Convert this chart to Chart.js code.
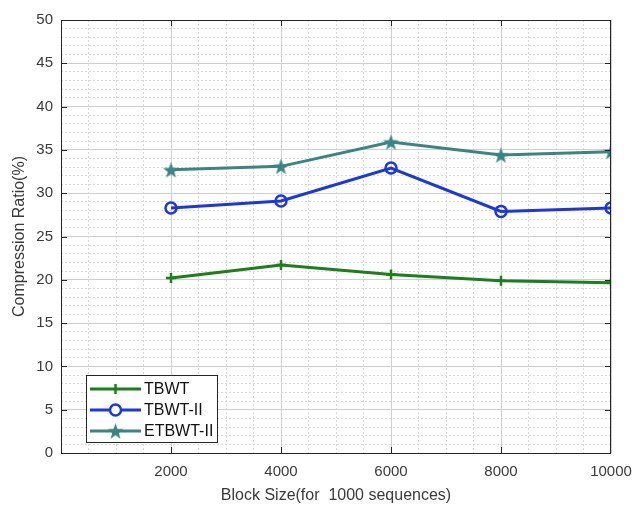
<!DOCTYPE html>
<html>
<head>
<meta charset="utf-8">
<script src="https://cdn.jsdelivr.net/npm/chart.js@4.4.0/dist/chart.umd.min.js"></script>
<style>
    html, body { margin: 0; padding: 0; background: #fff; }
    #wrap { width: 635px; height: 505px; position: relative; }
</style>
</head>
<body>
<div id="wrap"><canvas id="chart"></canvas></div>
<script>
// Chart data
const blockSizes = [2000, 4000, 6000, 8000, 10000];
const tbwt = [20.2, 21.7, 20.6, 19.9, 19.65];
const tbwt2 = [28.3, 29.1, 32.9, 27.9, 28.3];
const etbwt2 = [32.7, 33.1, 35.9, 34.4, 34.8];
const seriesLabels = ['TBWT', 'TBWT-II', 'ETBWT-II'];
const xTitle = 'Block Size(for  1000 sequences)';
const yTitle = 'Compression Ratio(%)';

const GREEN = '#1b7f1b';
const BLUE = '#1a36e6';
const TEAL = '#3a8582';
const TEXT = '#3a3a3a';
const FONT = '"Liberation Sans", Arial, sans-serif';

// Filled pentagram marker, drawn once onto a small canvas
function makeStar(color, r) {
    const c = document.createElement('canvas');
    c.width = c.height = Math.ceil(r * 2 + 2);
    const ctx = c.getContext('2d');
    const cx = c.width / 2, cy = c.height / 2 + r * 0.1;
    ctx.beginPath();
    for (let i = 0; i < 10; i++) {
        const rad = i % 2 === 0 ? r : r * 0.4;
        const a = -Math.PI / 2 + i * Math.PI / 5;
        const px = cx + rad * Math.cos(a), py = cy + rad * Math.sin(a);
        if (i === 0) ctx.moveTo(px, py); else ctx.lineTo(px, py);
    }
    ctx.closePath();
    ctx.fillStyle = color;
    ctx.fill();
    return c;
}
const starImg = makeStar(TEAL, 8.5);

function toPoints(values) {
    return blockSizes.map((x, i) => ({ x: x, y: values[i] }));
}

const datasets = [
    {
        label: seriesLabels[0],
        data: toPoints(tbwt),
        borderColor: GREEN,
        backgroundColor: GREEN,
        borderWidth: 3,
        pointStyle: 'cross',
        pointRadius: 5,
        pointBorderWidth: 2.5,
        tension: 0
    },
    {
        label: seriesLabels[1],
        data: toPoints(tbwt2),
        borderColor: BLUE,
        backgroundColor: 'rgba(255,255,255,0)',
        borderWidth: 3,
        pointStyle: 'circle',
        pointRadius: 5.5,
        pointBorderWidth: 2.5,
        tension: 0
    },
    {
        label: seriesLabels[2],
        data: toPoints(etbwt2),
        borderColor: TEAL,
        backgroundColor: TEAL,
        borderWidth: 3,
        pointStyle: starImg,
        tension: 0
    }
];

// Box around the plot, inward ticks and the legend
const frameAndLegend = {
    id: 'frameAndLegend',
    afterDraw(chart) {
        const ctx = chart.ctx;
        const a = chart.chartArea;
        const xs = chart.scales.x, ys = chart.scales.y;
        ctx.save();
        ctx.strokeStyle = '#262626';
        ctx.lineWidth = 1;
        ctx.strokeRect(a.left + 0.5, a.top + 0.5, a.right - a.left - 1, a.bottom - a.top);

        // inward ticks
        ctx.beginPath();
        xs.ticks.forEach(t => {
            if (t.value <= xs.min || t.value >= xs.max) return;
            const px = Math.round(xs.getPixelForValue(t.value)) + 0.5;
            ctx.moveTo(px, a.bottom); ctx.lineTo(px, a.bottom - 6);
            ctx.moveTo(px, a.top); ctx.lineTo(px, a.top + 6);
        });
        ys.ticks.forEach(t => {
            if (t.value <= ys.min || t.value >= ys.max) return;
            const py = Math.round(ys.getPixelForValue(t.value)) + 0.5;
            ctx.moveTo(a.left, py); ctx.lineTo(a.left + 6, py);
            ctx.moveTo(a.right, py); ctx.lineTo(a.right - 6, py);
        });
        ctx.stroke();

        // legend
        const lx = a.left + 25, ly = a.bottom - 78, lw = 131, lh = 67;
        ctx.fillStyle = '#fff';
        ctx.fillRect(lx, ly, lw, lh);
        ctx.strokeStyle = '#262626';
        ctx.strokeRect(lx + 0.5, ly + 0.5, lw, lh);
        ctx.font = '16px ' + FONT;
        ctx.textBaseline = 'middle';
        chart.data.datasets.forEach((ds, i) => {
            const cy = ly + 14 + i * 21;
            const x0 = lx + 4, x1 = lx + 55, mx = (x0 + x1) / 2;
            ctx.strokeStyle = ds.borderColor;
            ctx.lineWidth = 3;
            ctx.beginPath();
            ctx.moveTo(x0, cy); ctx.lineTo(x1, cy);
            ctx.stroke();
            ctx.lineWidth = 2.5;
            if (ds.pointStyle === 'cross') {
                ctx.beginPath();
                ctx.moveTo(mx, cy - 5); ctx.lineTo(mx, cy + 5);
                ctx.stroke();
            } else if (ds.pointStyle === 'circle') {
                ctx.fillStyle = '#fff';
                ctx.beginPath();
                ctx.arc(mx, cy, 5.5, 0, Math.PI * 2);
                ctx.fill();
                ctx.stroke();
            } else {
                ctx.drawImage(ds.pointStyle, mx - ds.pointStyle.width / 2, cy - ds.pointStyle.height / 2);
            }
            ctx.fillStyle = '#111';
            ctx.fillText(ds.label, x1 + 3, cy + 1);
        });
        ctx.restore();
    }
};

const minorGrid = {
    color: '#dcdcdc',
    lineWidth: 1,
    drawTicks: false
};

new Chart(document.getElementById('chart'), {
    type: 'line',
    data: { datasets: datasets },
    options: {
        responsive: true,
        maintainAspectRatio: false,
        animation: false,
        layout: { padding: { top: 20, right: 24, left: 10, bottom: 0 } },
        plugins: {
            legend: { display: false },
            tooltip: { enabled: false }
        },
        scales: {
            xMinor: {
                type: 'linear', position: 'bottom', min: 0, max: 10000,
                ticks: { display: false, stepSize: 500 },
                grid: minorGrid,
                border: { display: false, dash: [2, 2] },
                afterFit: s => { s.height = 0; }
            },
            yMinor: {
                type: 'linear', position: 'left', min: 0, max: 50,
                ticks: { display: false, stepSize: 1 },
                grid: minorGrid,
                border: { display: false, dash: [2, 2] },
                afterFit: s => { s.width = 0; }
            },
            x: {
                type: 'linear', position: 'bottom', min: 0, max: 10000,
                ticks: {
                    stepSize: 2000,
                    color: TEXT,
                    font: { family: FONT, size: 15 },
                    padding: 10,
                    maxRotation: 0,
                    callback: v => (v === 0 ? '' : String(v))
                },
                grid: { color: '#cfcfcf', drawTicks: false },
                border: { display: false },
                title: {
                    display: true,
                    text: xTitle,
                    color: TEXT,
                    font: { family: FONT, size: 16 },
                    padding: { top: 0, bottom: 0 }
                },
                afterFit: s => {
                    s.height = 52;
                    s.paddingLeft = 0;
                    s.paddingRight = 0;
                }
            },
            y: {
                type: 'linear', position: 'left', min: 0, max: 50,
                ticks: {
                    stepSize: 5,
                    color: TEXT,
                    font: { family: FONT, size: 15 },
                    padding: 8
                },
                grid: { color: '#cfcfcf', drawTicks: false },
                border: { display: false },
                title: {
                    display: true,
                    text: yTitle,
                    color: TEXT,
                    font: { family: FONT, size: 16 },
                    padding: { top: 0, bottom: 4 }
                },
                afterFit: s => { s.width = 51; }
            }
        }
    },
    plugins: [frameAndLegend]
});
</script>
</body>
</html>
